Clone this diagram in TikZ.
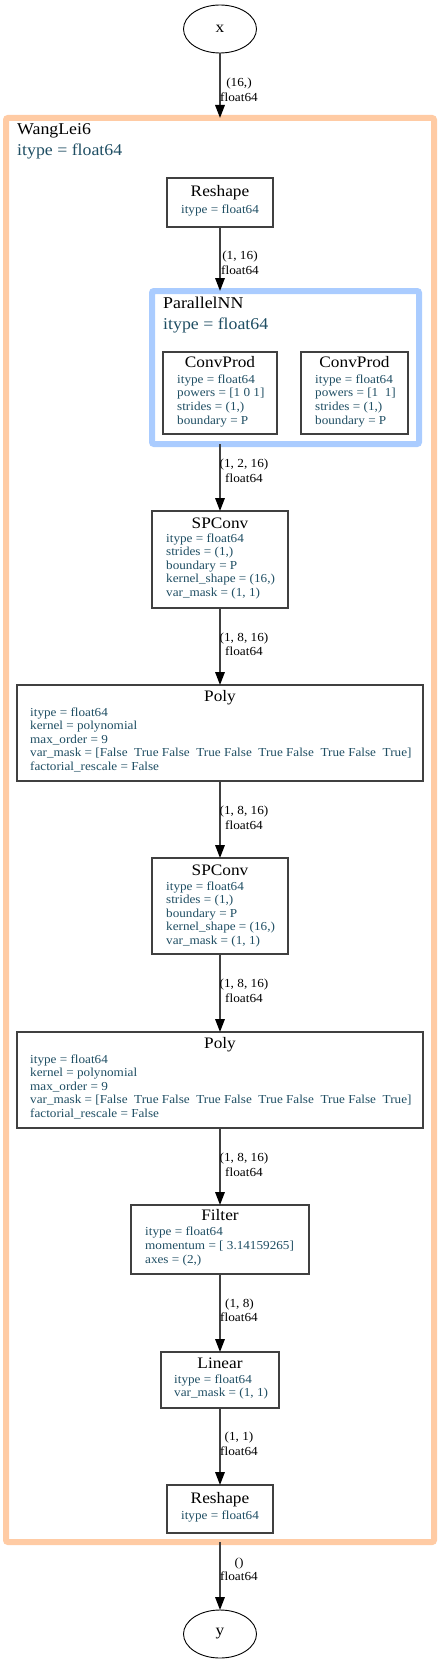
\documentclass[tikz,border=0pt]{standalone}
\usepackage{fontspec}
\setmainfont{Liberation Serif}[FakeStretch=1.08]
\usetikzlibrary{arrows.meta,shapes.geometric}
\definecolor{attrc}{RGB}{31,78,99}
\definecolor{orangec}{RGB}{255,203,164}
\definecolor{bluec}{RGB}{170,204,255}
\definecolor{edgec}{RGB}{64,64,64}
\newcommand{\attrlines}[5]{% name, x, first y, spacing, list
  \foreach \t [count=\i from 1] in {#5} {
    \node[attr] (#1-\i) at (#2, {#3+(\i-1)*#4}) {\t};
  }%
}
\begin{document}
\begin{tikzpicture}[x=1pt,y=-1pt,
  box/.style={draw=edgec, line width=1.2pt, inner sep=0pt, outer sep=0pt},
  ttl/.style={font=\fontsize{16}{19}\selectfont, inner sep=0pt, anchor=mid},
  clab/.style={font=\fontsize{16.5}{20}\selectfont, inner sep=0pt, anchor=mid west},
  attr/.style={font=\fontsize{12.2}{13.5}\selectfont, text=attrc, inner sep=0pt, anchor=mid west},
  elab/.style={font=\fontsize{12.3}{14}\selectfont, inner sep=0pt, anchor=mid},
  flow/.style={draw=edgec, line width=1.7pt, -{Triangle[length=13pt,width=9.5pt,color=black,fill=black]}},
  term/.style={ellipse, draw=black, line width=0.9pt, minimum width=73pt, minimum height=48pt, inner sep=0pt, outer sep=0pt, font=\fontsize{16}{19}\selectfont},
  cluster/.style={line width=6pt, rounded corners=2pt, inner sep=0pt, outer sep=0pt}
]
\useasboundingbox (0,0) rectangle (440,1664);

% clusters
\node[cluster, draw=orangec, minimum width=428pt, minimum height=1424pt] (wang) at (220,830) {};
\node[clab] (wangname) at (17,132) {WangLei6};
\node[clab, text=attrc] (wangattr) at (17,153) {itype = float64};

\node[cluster, draw=bluec, minimum width=267pt, minimum height=153pt] (par) at (285.5,367.5) {};
\node[clab] (parname) at (163,306) {ParallelNN};
\node[clab, text=attrc] (parattr) at (163,327) {itype = float64};

% terminals
\node[term] (x) at (220,29) {x};
\node[term] (y) at (220,1634) {y};

% boxes
\node[box, minimum width=106pt, minimum height=49pt] (reshapeA) at (220,202.5) {};
\node[ttl] (reshapeA-t) at (220,194) {Reshape};
\node[attr, anchor=mid] (reshapeA-1) at (220,211) {itype = float64};

\node[box, minimum width=114pt, minimum height=82pt] (cpA) at (220,393) {};
\node[ttl] (cpA-t) at (220,365) {ConvProd};
\attrlines{cpA}{177}{381}{13.6}{{itype = float64},{powers = [1 0 1]},{strides = (1,)},{boundary = P}}

\node[box, minimum width=107pt, minimum height=82pt] (cpB) at (354.5,393) {};
\node[ttl] (cpB-t) at (354.5,365) {ConvProd};
\attrlines{cpB}{315}{381}{13.6}{{itype = float64},{powers = [1\ \ 1]},{strides = (1,)},{boundary = P}}

\node[box, minimum width=136pt, minimum height=97pt] (spA) at (220,559.5) {};
\node[ttl] (spA-t) at (220,526) {SPConv};
\attrlines{spA}{166}{540}{13.5}{{itype = float64},{strides = (1,)},{boundary = P},{kernel\_shape = (16,)},{var\_mask = (1, 1)}}

\node[box, minimum width=406pt, minimum height=96pt] (polyA) at (220,733) {};
\node[ttl] (polyA-t) at (220,699) {Poly};
\attrlines{polyA}{30}{714}{13.5}{{itype = float64},{kernel = polynomial},{max\_order = 9},{var\_mask = [False\ \ True False\ \ True False\ \ True False\ \ True False\ \ True]},{factorial\_rescale = False}}

\node[box, minimum width=136pt, minimum height=96pt] (spB) at (220,906) {};
\node[ttl] (spB-t) at (220,873) {SPConv};
\attrlines{spB}{166}{888}{13.5}{{itype = float64},{strides = (1,)},{boundary = P},{kernel\_shape = (16,)},{var\_mask = (1, 1)}}

\node[box, minimum width=406pt, minimum height=96pt] (polyB) at (220,1080) {};
\node[ttl] (polyB-t) at (220,1046) {Poly};
\attrlines{polyB}{30}{1061}{13.5}{{itype = float64},{kernel = polynomial},{max\_order = 9},{var\_mask = [False\ \ True False\ \ True False\ \ True False\ \ True False\ \ True]},{factorial\_rescale = False}}

\node[box, minimum width=178pt, minimum height=69pt] (filt) at (220,1239.5) {};
\node[ttl] (filt-t) at (220,1218) {Filter};
\attrlines{filt}{145}{1233.5}{14}{{itype = float64},{momentum = [ 3.14159265]},{axes = (2,)}}

\node[box, minimum width=118pt, minimum height=56pt] (lin) at (220,1380) {};
\node[ttl] (lin-t) at (220,1366) {Linear};
\attrlines{lin}{174}{1381}{13.5}{{itype = float64},{var\_mask = (1, 1)}}

\node[box, minimum width=106pt, minimum height=48pt] (reshapeB) at (220,1509) {};
\node[ttl] (reshapeB-t) at (220,1501) {Reshape};
\node[attr, anchor=mid] (reshapeB-1) at (220,1517) {itype = float64};

% edges
\draw[flow] (x.south) -- (wang.north);
\draw[flow] (reshapeA.south) -- (reshapeA.south |- par.north);
\draw[flow] (spA.north |- par.south) -- (spA.north);
\draw[flow] (spA.south) -- (polyA.north);
\draw[flow] (polyA.south) -- (spB.north);
\draw[flow] (spB.south) -- (polyB.north);
\draw[flow] (polyB.south) -- (filt.north);
\draw[flow] (filt.south) -- (lin.north);
\draw[flow] (lin.south) -- (reshapeB.north);
\draw[flow] (wang.south) -- (y.north);

% edge labels
\node[elab] (e1a) at (239,84) {(16,)};
\node[elab] (e1b) at (239,99) {float64};
\node[elab] (e2a) at (240,257) {(1, 16)};
\node[elab] (e2b) at (240,272) {float64};
\node[elab] (e3a) at (244,465) {(1, 2, 16)};
\node[elab] (e3b) at (244,480) {float64};
\node[elab] (e4a) at (244,639) {(1, 8, 16)};
\node[elab] (e4b) at (244,653) {float64};
\node[elab] (e5a) at (244,812) {(1, 8, 16)};
\node[elab] (e5b) at (244,827) {float64};
\node[elab] (e6a) at (244,985) {(1, 8, 16)};
\node[elab] (e6b) at (244,1000) {float64};
\node[elab] (e7a) at (244,1159) {(1, 8, 16)};
\node[elab] (e7b) at (244,1174) {float64};
\node[elab] (e8a) at (239.5,1305) {(1, 8)};
\node[elab] (e8b) at (239,1319) {float64};
\node[elab] (e9a) at (239,1438) {(1, 1)};
\node[elab] (e9b) at (239,1453) {float64};
\node[elab] (e10a) at (239,1564) {()};
\node[elab] (e10b) at (239,1578) {float64};
\end{tikzpicture}
\end{document}
